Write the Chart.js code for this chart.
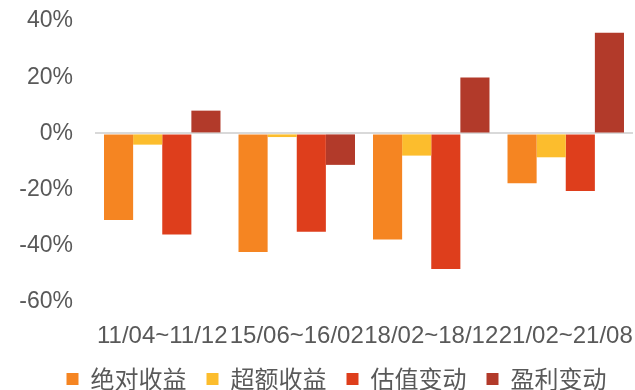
<!DOCTYPE html>
<html>
<head>
<meta charset="utf-8">
<script src="https://cdn.jsdelivr.net/npm/chart.js@4"></script>
<style>
  html, body { margin: 0; padding: 0; overflow: hidden; background: #fff; }
  #wrap { width: 635px; height: 401px; position: relative; }
</style>
</head>
<body>
<div id="wrap"><canvas id="barCanvas"></canvas></div>
<script>
const categories = ['11/04~11/12', '15/06~16/02', '18/02~18/12', '21/02~21/08'];
const absoluteReturn = [-30.8, -42.2, -37.8, -17.7];
const excessReturn = [-4.0, -1.3, -7.9, -8.5];
const valuationChange = [-36.0, -35.0, -48.3, -20.5];
const earningsChange = [8.1, -11.2, 19.9, 35.8];
const yTicks = [-60, -40, -20, 0, 20, 40];

// legend sits a bit right of centre in the original
const shiftLegend = {
    id: 'shiftLegend',
    afterLayout(chart) {
        chart.legend.left += 20;
        chart.legend.right += 20;
    }
};

const barCanvas = document.getElementById('barCanvas').getContext('2d');

const barChart = new Chart(barCanvas, {
    type: 'bar',
    data: {
        labels: categories,
        datasets: [
            { label: '绝对收益', data: absoluteReturn, backgroundColor: '#F58522' },
            { label: '超额收益', data: excessReturn, backgroundColor: '#FCBD2D' },
            { label: '估值变动', data: valuationChange, backgroundColor: '#DE3E1C' },
            { label: '盈利变动', data: earningsChange, backgroundColor: '#B23A2A' }
        ]
    },
    plugins: [shiftLegend],
    options: {
        responsive: true,
        maintainAspectRatio: false,
        animation: false,
        layout: { padding: { top: 21, right: 2, left: 0, bottom: 0 } },
        datasets: {
            bar: { categoryPercentage: 0.866, barPercentage: 1 }
        },
        scales: {
            x: {
                afterFit: s => { s.height = 45; s.paddingLeft = 0; s.paddingRight = 0; },
                grid: { display: false },
                border: { display: false },
                ticks: {
                    font: { family: 'Liberation Sans, Arial, sans-serif', size: 24 },
                    color: '#595959',
                    maxRotation: 0,
                    autoSkip: false,
                    padding: 12
                }
            },
            y: {
                min: -60,
                max: 40,
                afterFit: s => { s.width = 95; s.paddingTop = 0; s.paddingBottom = 0; },
                afterBuildTicks: s => { s.ticks = yTicks.map(v => ({ value: v })); },
                grid: {
                    drawTicks: false,
                    lineWidth: 2,
                    color: ctx => ctx.tick && ctx.tick.value === 0 ? '#d9d9d9' : 'rgba(0,0,0,0)'
                },
                border: { display: false },
                ticks: {
                    font: { family: 'Liberation Sans, Arial, sans-serif', size: 23 },
                    color: '#595959',
                    padding: 22,
                    callback: v => v + '%'
                }
            }
        },
        plugins: {
            legend: {
                position: 'bottom',
                labels: {
                    boxWidth: 12,
                    boxHeight: 12,
                    padding: 20,
                    color: '#595959',
                    font: { family: 'Noto Sans CJK SC, sans-serif', size: 24 }
                }
            },
            tooltip: { enabled: false }
        }
    }
});
</script>
</body>
</html>
